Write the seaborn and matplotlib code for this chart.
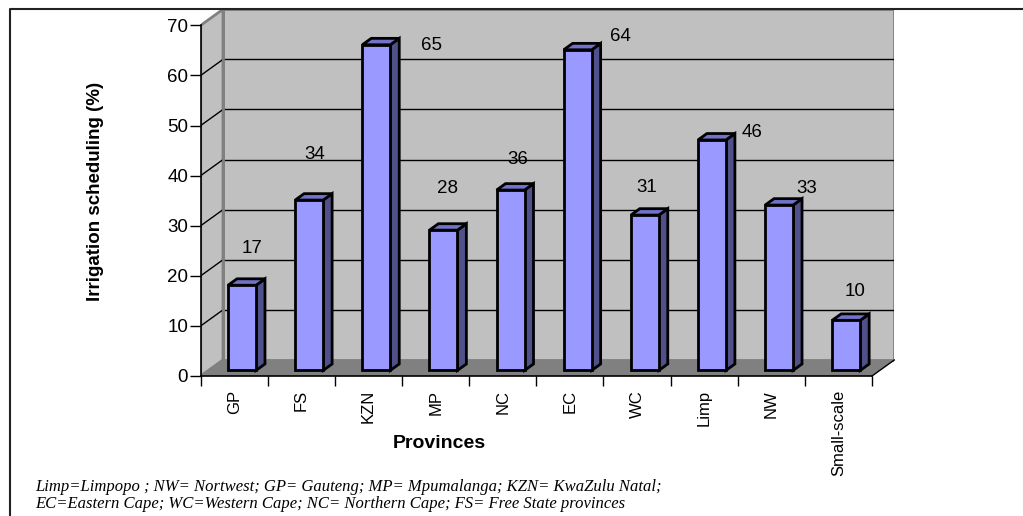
import numpy as np
import matplotlib
matplotlib.use("Agg")
import matplotlib.pyplot as plt
from matplotlib.patches import Polygon
from matplotlib.lines import Line2D
import seaborn as sb

provinces = ["GP", "FS", "KZN", "MP", "NC", "EC", "WC", "Limp", "NW", "Small-scale"]
values = [17, 34, 65, 28, 36, 64, 31, 46, 33, 10]
yticks = [0, 10, 20, 30, 40, 50, 60, 70]

# where Excel dropped the value labels (offset from category / bar top)
label_dx = [0.26, 0.20, 0.94, 0.17, 0.23, 0.75, 0.15, 0.71, 0.53, 0.25]
label_dy = [8.5, 10.3, 0.9, 9.5, 7.3, 3.7, 6.7, 2.7, 4.5, 6.8]

footnote = ["Limp=Limpopo ; NW= Nortwest; GP= Gauteng; MP= Mpumalanga; KZN= KwaZulu Natal;",
            "EC=Eastern Cape; WC=Western Cape; NC= Northern Cape; FS= Free State provinces"]

plt.rcParams["font.family"] = ["Liberation Sans", "DejaVu Sans"]

W, H = 1023, 516
fig = plt.figure(figsize=(W / 100, H / 100), dpi=100)
ax = fig.add_axes([200.7 / W, (H - 376) / H, (894.3 - 200.7) / W, (376 - 9.3) / H])

DX, DY = 0.332, 3.2     # depth of the 3D box in data units
f, d = 0.35, 0.40       # bar position in depth, bar depth
bw = 0.417
ymax = 70

front = "#9999FF"
side = "#50508A"
top = "#7272CC"

sb.barplot(x=provinces, y=values, color=front, width=bw, edgecolor="black",
           linewidth=2, saturation=1, ax=ax, zorder=5)

# walls and floor
ax.add_patch(Polygon([(-0.5 + DX, DY), (9.5 + DX, DY), (9.5 + DX, ymax + DY), (-0.5 + DX, ymax + DY)],
                     closed=True, fc="#C0C0C0", ec="#808080", lw=2, zorder=0))
ax.add_patch(Polygon([(-0.5, 0), (-0.5 + DX, DY), (-0.5 + DX, ymax + DY), (-0.5, ymax)],
                     closed=True, fc="#C0C0C0", ec="#808080", lw=2, zorder=0))
ax.add_patch(Polygon([(-0.5, 0), (9.5, 0), (9.5 + DX, DY), (-0.5 + DX, DY)],
                     closed=True, fc="#808080", ec="none", zorder=1))
for v in yticks[1:-1]:
    ax.plot([-0.5 + DX, 9.5 + DX], [v + DY, v + DY], color="black", lw=1, zorder=1)
    ax.plot([-0.5, -0.5 + DX], [v, v + DY], color="black", lw=1, zorder=1)
ax.plot([9.5, 9.5 + DX], [0, DY], color="black", lw=1, zorder=2, clip_on=False)
ax.plot([-0.5 + DX, -0.5 + DX], [DY, ymax + DY], color="#808080", lw=2, zorder=1)

# shift front faces back into the box and add side / top faces
bars = [p for p in ax.patches if p.get_facecolor()[2] == 1.0 and p.get_width() < 1]
for p, v in zip(bars, values):
    p.set_x(p.get_x() + f * DX)
    p.set_y(f * DY)
    x0, x1 = p.get_x(), p.get_x() + p.get_width()
    yb, yt = f * DY, v + f * DY
    ax.add_patch(Polygon([(x1, yb), (x1 + d * DX, yb + d * DY), (x1 + d * DX, yt + d * DY), (x1, yt)],
                         closed=True, fc=side, ec="black", lw=2, zorder=4, joinstyle="miter"))
    ax.add_patch(Polygon([(x0, yt), (x1, yt), (x1 + d * DX, yt + d * DY), (x0 + d * DX, yt + d * DY)],
                         closed=True, fc=top, ec="black", lw=2, zorder=4, joinstyle="miter"))

for i, v in enumerate(values):
    ax.text(i + label_dx[i], v + label_dy[i], str(v), ha="center", va="center",
            fontsize=13.5, color="black", zorder=6)

ax.set_xlim(-0.5, 9.5 + DX)
ax.set_ylim(0, ymax + DY)
for s in ["top", "right"]:
    ax.spines[s].set_visible(False)
ax.spines["left"].set_bounds(0, ymax)
ax.spines["bottom"].set_bounds(-0.5, 9.5)
for s in ["left", "bottom"]:
    ax.spines[s].set_color("black")
    ax.spines[s].set_linewidth(1.2)
    ax.spines[s].set_zorder(7)

ax.set_yticks(yticks)
ax.set_yticklabels([str(t) for t in yticks], fontsize=13.5)
ax.tick_params(axis="y", length=8, width=1, pad=1)
ax.set_xticks(np.arange(-0.5, 10, 1))
ax.set_xticklabels([])
ax.tick_params(axis="x", which="major", length=7, width=1)
ax.set_xticks(np.arange(len(provinces)), minor=True)
ax.set_xticklabels(provinces, minor=True, rotation=90, fontsize=12, va="top")
ax.tick_params(axis="x", which="minor", length=0, pad=10)
ax.set_xlabel("")
ax.set_ylabel("")
ax.set_facecolor("none")

fig.text(439 / W, 1 - 444 / H, "Provinces", ha="center", va="center", fontsize=14, fontweight="bold")
fig.text(95 / W, 1 - 191 / H, "Irrigation scheduling (%)", ha="center", va="center",
         rotation=90, fontsize=13.5, fontweight="bold")
for k, line in enumerate(footnote):
    fig.text(35 / W, 1 - (487 + 17.5 * k) / H, line, ha="left", va="center", fontsize=12,
             family=["Liberation Serif", "DejaVu Serif"], style="italic")

# chart area border (only top and left visible)
bx, by = 10 / W, 1 - 9.3 / H
fig.add_artist(Line2D([bx, bx, 1.0], [0.0, by, by], transform=fig.transFigure, color="#222222", lw=1.5))

fig.savefig("out.png", dpi=100)
